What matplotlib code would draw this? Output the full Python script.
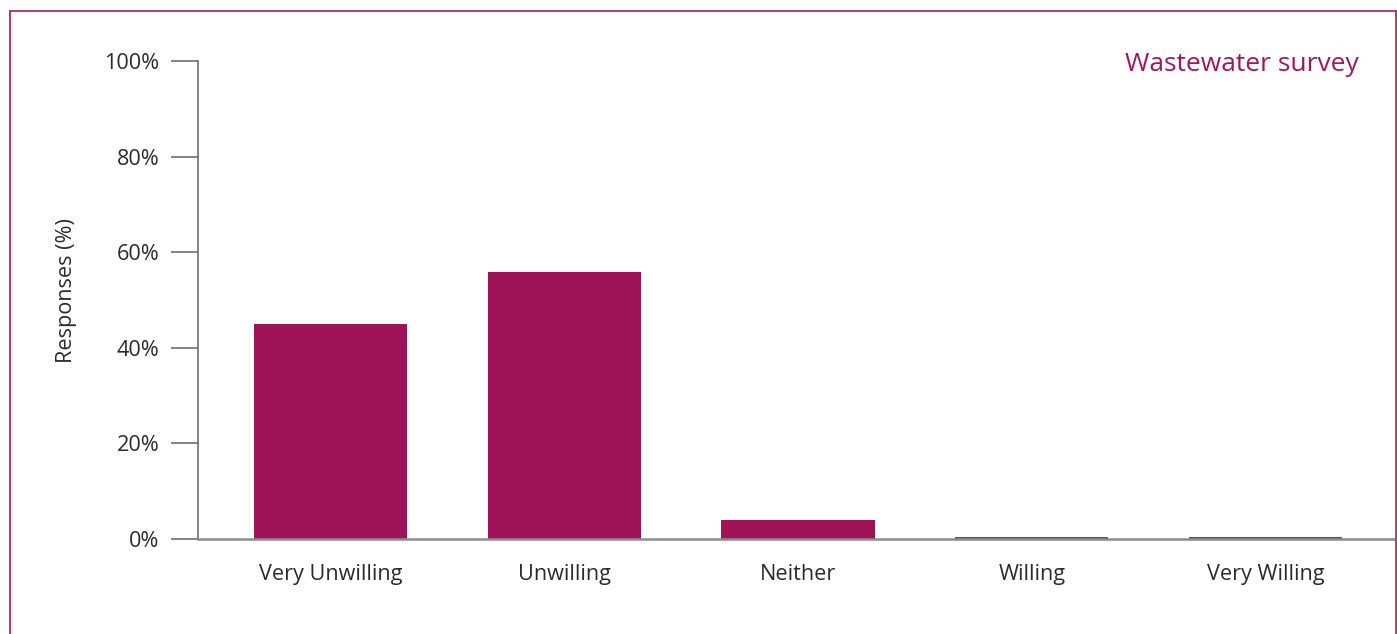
import matplotlib
matplotlib.use("Agg")
import matplotlib.pyplot as plt
from matplotlib.lines import Line2D

plt.rcParams['font.family'] = ['Open Sans', 'DejaVu Sans']

# Survey responses
categories = ["Very Unwilling", "Unwilling", "Neither", "Willing", "Very Willing"]
responses = [45.0, 55.9, 4.0, 0.4, 0.5]
y_ticks = [0, 20, 40, 60, 80, 100]
y_tick_labels = ["0%", "20%", "40%", "60%", "80%", "100%"]
title = "Wastewater survey"

MAGENTA = "#9e1456"
TINY = "#555555"
TEXT = "#2b2b2b"
AXIS = "#8c8c8c"
LABEL_SIZE = 15.6

W, H = 1397, 634
fig = plt.figure(figsize=(W / 100, H / 100), dpi=100)
fig.patch.set_facecolor("white")

# open frame around the chart (left, top, right)
frame_col = "#b23a74"
fx0, fx1, fy = 9.5 / W, 1395.5 / W, 1 - 10.5 / H
for xs, ys in [([fx0, fx0], [0, fy]), ([fx0, fx1], [fy, fy]), ([fx1, fx1], [0, fy])]:
    fig.add_artist(Line2D(xs, ys, color=frame_col, lw=1.4, transform=fig.transFigure))

left, right = 198 / W, 1396 / W
bottom, top = 1 - 539 / H, 1 - 61 / H
ax = fig.add_axes([left, bottom, right - left, top - bottom])

x = list(range(len(categories)))
colors = [MAGENTA if v >= 1 else TINY for v in responses]
ax.bar(x, responses, width=0.655, color=colors, zorder=2)

ax.set_xlim(-0.567, 4.558)
ax.set_ylim(0, 100)

ax.set_yticks(y_ticks)
ax.set_yticklabels(y_tick_labels)
ax.set_xticks(x)
ax.set_xticklabels(categories)

for s in ["top", "right"]:
    ax.spines[s].set_visible(False)
ax.spines["left"].set_color("#6e6e6e")
ax.spines["left"].set_linewidth(1.2)
ax.spines["bottom"].set_color(AXIS)
ax.spines["bottom"].set_linewidth(1.8)
ax.spines["bottom"].set_zorder(3)

ax.tick_params(axis="y", length=19.4, width=1.2, color="#6e6e6e", pad=8.5,
               labelsize=LABEL_SIZE, labelcolor=TEXT)
ax.tick_params(axis="x", length=0, pad=18, labelsize=LABEL_SIZE, labelcolor=TEXT)

ax.set_ylabel("Responses (%)", fontsize=LABEL_SIZE, color=TEXT, va="center")
ax.yaxis.set_label_coords(-0.11, 0.52)

fig.text(1359 / W, 1 - 71 / H, title, ha="right", va="baseline", fontsize=19,
         color="#a0175d")

fig.savefig("out.png", dpi=100, facecolor="white")
